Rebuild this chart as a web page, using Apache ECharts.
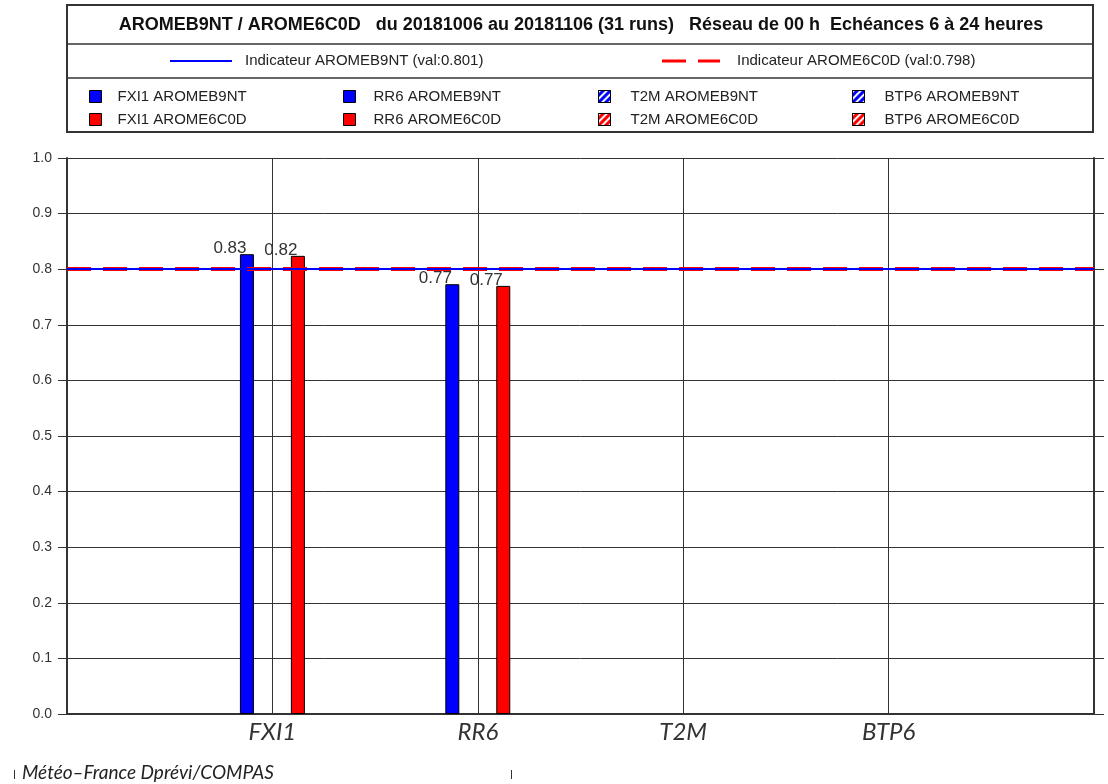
<!DOCTYPE html>
<html>
<head>
<meta charset="utf-8">
<script src="https://cdn.jsdelivr.net/npm/echarts@6/dist/echarts.min.js"></script>
<style>
  html, body { margin: 0; padding: 0; background: #fff; }
  #chart { width: 1108px; height: 784px; }
</style>
</head>
<body>
<div id="chart"></div>
<script>
// Scores per parameter for the two AROME configurations
const categories = ['FXI1', 'RR6', 'T2M', 'BTP6'];
const models = ['AROMEB9NT', 'AROME6C0D'];
const scoresB9NT = [0.827, 0.773, null, null];
const scores6C0D = [0.824, 0.770, null, null];
const indicatorValues = [0.801, 0.798];
const yTickValues = [0.0, 0.1, 0.2, 0.3, 0.4, 0.5, 0.6, 0.7, 0.8, 0.9, 1.0];

const titleText = 'AROMEB9NT / AROME6C0D   du 20181006 au 20181106 (31 runs)   Réseau de 00 h  Echéances 6 à 24 heures';
const footerText = 'Météo–France Dprévi/COMPAS';

const modelColors = ['#0000ff', '#ff0000'];
const hatchedCats = ['T2M', 'BTP6'];

// x axis: one empty slot on each side so the categories sit on the inner ticks
const xSlots = [''].concat(categories, ['']);

const chart = echarts.init(document.getElementById('chart'), null, { renderer: 'canvas' });

const seriesList = [];
const scoreSets = [scoresB9NT, scores6C0D];
const legendNames = [[], [], [], []];

categories.forEach((cat, ci) => {
  models.forEach((model, mi) => {
    const name = cat + ' ' + model;
    legendNames[ci].push(name);
    const vals = xSlots.map(() => '-');
    const v = scoreSets[mi][ci];
    if (v !== null) vals[ci + 1] = v;
    const itemStyle = {
      color: modelColors[mi],
      borderColor: '#000',
      borderWidth: 1
    };
    if (hatchedCats.indexOf(cat) >= 0) {
      itemStyle.decal = {
        symbol: 'rect',
        color: 'rgba(255,255,255,0.95)',
        dashArrayX: [1, 0],
        dashArrayY: [1.6, 2.4],
        symbolSize: 1,
        rotation: -Math.PI / 4
      };
    }
    seriesList.push({
      type: 'bar',
      name: name,
      stack: model,
      data: vals,
      barWidth: 14,
      barGap: '264%',
      itemStyle: itemStyle,
      label: {
        show: true,
        position: 'top',
        distance: 0,
        offset: [-17, 3],
        color: '#333',
        fontFamily: 'Liberation Sans',
        fontSize: 17,
        formatter: p => (typeof p.value === 'number' ? p.value.toFixed(2) : '')
      }
    });
  });
});

// Indicator lines for each configuration
const indicatorNames = models.map((m, i) => 'Indicateur ' + m + ' (val:' + indicatorValues[i].toFixed(3) + ')');
const indicatorStyles = [
  { color: '#0000ff', width: 2, type: 'solid' },
  { color: '#ff0000', width: 4, type: [24, 12] }
];
// dashed one first so the solid line sits on top
[1, 0].forEach(i => {
  seriesList.push({
    type: 'line',
    name: indicatorNames[i],
    data: [],
    symbol: 'none',
    lineStyle: indicatorStyles[i],
    markLine: {
      silent: true,
      symbol: 'none',
      z: 6 + (i === 0 ? 1 : 0),
      label: { show: false },
      lineStyle: indicatorStyles[i],
      data: [{ yAxis: indicatorValues[i] }]
    }
  });
});

const legendFont = { fontFamily: 'Liberation Sans', fontSize: 15, color: '#222' };
const legendCols = [89, 343, 598, 852];
const legendPads = [11, 13, 15, 15];
const legends = legendNames.map((names, ci) => ({
  left: legendCols[ci],
  top: 89,
  padding: 0,
  orient: 'vertical',
  itemWidth: 12,
  itemHeight: 12,
  itemGap: 8,
  selectedMode: false,
  icon: 'rect',
  itemStyle: { borderColor: '#000', borderWidth: 1 },
  textStyle: Object.assign({ padding: [0, 0, 0, legendPads[ci]], lineHeight: 14 }, legendFont),
  data: names
}));

// header row with the indicator keys (line sample + text)
const indicatorKeyX = [[170, 232, 245], [662, 720, 737]];
const indicatorKeys = [];
indicatorKeyX.forEach((k, i) => {
  indicatorKeys.push({
    type: 'line',
    shape: { x1: k[0], y1: 61, x2: k[1], y2: 61 },
    style: {
      stroke: indicatorStyles[i].color,
      lineWidth: i === 1 ? 3 : 2.2,
      lineDash: i === 1 ? [24, 12] : null
    }
  });
  indicatorKeys.push({
    type: 'text',
    x: k[2],
    y: 61,
    style: {
      text: indicatorNames[i],
      verticalAlign: 'middle',
      fill: '#222',
      font: '15px "Liberation Sans"'
    }
  });
});

const option = {
  backgroundColor: '#fff',
  animation: false,
  grid: { left: 67, right: 14, top: 158, bottom: 70, containLabel: false },
  legend: legends,
  xAxis: {
    type: 'category',
    data: xSlots,
    boundaryGap: false,
    axisLine: { show: true, lineStyle: { color: '#333', width: 2 } },
    axisTick: { show: false },
    axisLabel: {
      interval: 0,
      margin: 6,
      color: '#333',
      fontFamily: 'Lato',
      fontStyle: 'italic',
      fontSize: 24
    },
    splitLine: { show: true, interval: 0, lineStyle: { color: '#333', width: 1 } }
  },
  yAxis: [
    {
      type: 'value',
      min: yTickValues[0],
      max: yTickValues[yTickValues.length - 1],
      interval: 0.1,
      axisLine: { show: true, lineStyle: { color: '#333', width: 2 } },
      axisTick: { show: true, length: 9, lineStyle: { color: '#333', width: 1 } },
      axisLabel: {
        margin: 15,
        color: '#333',
        fontFamily: 'Liberation Sans',
        fontSize: 14,
        formatter: v => v.toFixed(1)
      },
      splitLine: { show: true, lineStyle: { color: '#333', width: 1 } }
    },
    {
      type: 'value',
      position: 'right',
      min: yTickValues[0],
      max: yTickValues[yTickValues.length - 1],
      interval: 0.1,
      axisLine: { show: true, lineStyle: { color: '#333', width: 2 } },
      axisTick: { show: true, length: 10, lineStyle: { color: '#333', width: 1 } },
      axisLabel: { show: false },
      splitLine: { show: false }
    }
  ],
  series: seriesList,
  graphic: [
    {
      type: 'rect',
      shape: { x: 67, y: 5, width: 1026, height: 127 },
      style: { fill: 'none', stroke: '#333', lineWidth: 2 }
    },
    { type: 'line', shape: { x1: 67, y1: 44, x2: 1093, y2: 44 }, style: { stroke: '#333', lineWidth: 1.5 } },
    { type: 'line', shape: { x1: 67, y1: 78, x2: 1093, y2: 78 }, style: { stroke: '#333', lineWidth: 1.5 } },
    {
      type: 'text',
      x: 581,
      y: 25,
      style: {
        text: titleText,
        align: 'center',
        verticalAlign: 'middle',
        fill: '#111',
        font: 'bold 18px "Liberation Sans"'
      }
    },
    {
      type: 'text',
      x: 22,
      y: 773,
      style: {
        text: footerText,
        verticalAlign: 'middle',
        fill: '#222',
        font: 'italic 19px Lato'
      }
    },
    { type: 'line', shape: { x1: 14.5, y1: 770, x2: 14.5, y2: 779 }, style: { stroke: '#333', lineWidth: 1 } },
    { type: 'line', shape: { x1: 511.5, y1: 770, x2: 511.5, y2: 779 }, style: { stroke: '#333', lineWidth: 1 } }
  ].concat(indicatorKeys)
};

chart.setOption(option);
</script>
</body>
</html>
